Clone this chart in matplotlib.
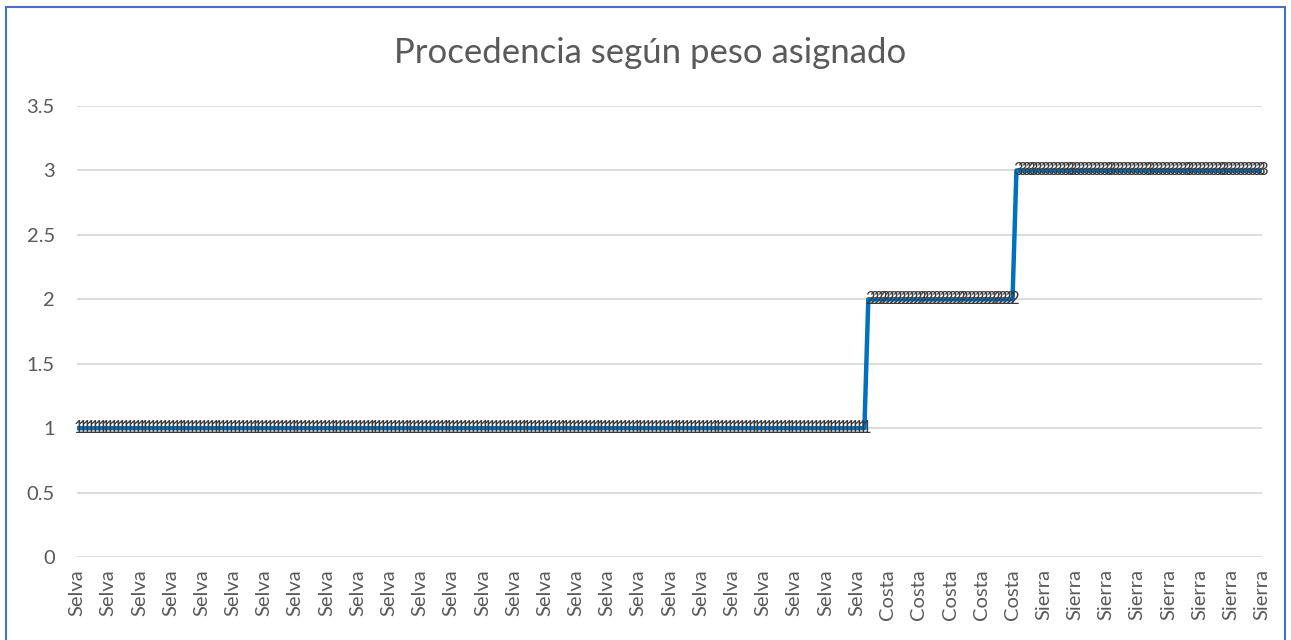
import matplotlib
matplotlib.use("Agg")
import matplotlib.pyplot as plt
from matplotlib.patches import Rectangle

# values
regiones = ["Selva", "Costa", "Sierra"]
conteos = [203, 38, 64]
pesos = {"Selva": 1, "Costa": 2, "Sierra": 3}

procedencia = []
for r, c in zip(regiones, conteos):
    procedencia += [r] * c
valores = [pesos[p] for p in procedencia]
x = list(range(len(valores)))

plt.rcParams['font.family'] = ['Lato', 'DejaVu Sans']

fig = plt.figure(figsize=(12.91, 6.40), dpi=100)
ax = fig.add_axes([77 / 1291, 1 - 557 / 640, (1262 - 77) / 1291, (557 - 106) / 640])

ax.plot(x, valores, color='#0070C0', lw=3.2, solid_capstyle='butt', zorder=2)
# data labels, one per point (they overlap in the original too)
for xi, v in zip(x, valores):
    ax.text(xi + 0.4, v, str(v), ha='center', va='center', fontsize=12,
            color='#3a3a3a', zorder=3)

ax.set_xlim(0, len(valores) - 1)
ax.set_ylim(0, 3.5)
ax.set_yticks([0, 0.5, 1, 1.5, 2, 2.5, 3, 3.5])
ax.set_yticklabels(['0', '0.5', '1', '1.5', '2', '2.5', '3', '3.5'])
ax.set_xticks(x[::8])
ax.set_xticklabels(procedencia[::8], rotation=90)
ax.tick_params(length=0, labelsize=14.5, labelcolor='#595959')
ax.tick_params(axis='y', pad=16)
ax.tick_params(axis='x', pad=9)
ax.grid(axis='y', color='#D9D9D9', lw=1.3)
ax.set_axisbelow(True)
for s in ax.spines.values():
    s.set_visible(False)

fig.text(650 / 1291, 1 - 53 / 640, "Procedencia según peso asignado",
         ha='center', va='center', fontsize=25, color='#595959')

fig.patches.append(Rectangle((6 / 1291, -0.05), (1285 - 6) / 1291, 1.05 - 7 / 640,
                             transform=fig.transFigure, fill=False,
                             edgecolor='#4472C4', lw=1.5))

fig.savefig("out.png", dpi=100)
